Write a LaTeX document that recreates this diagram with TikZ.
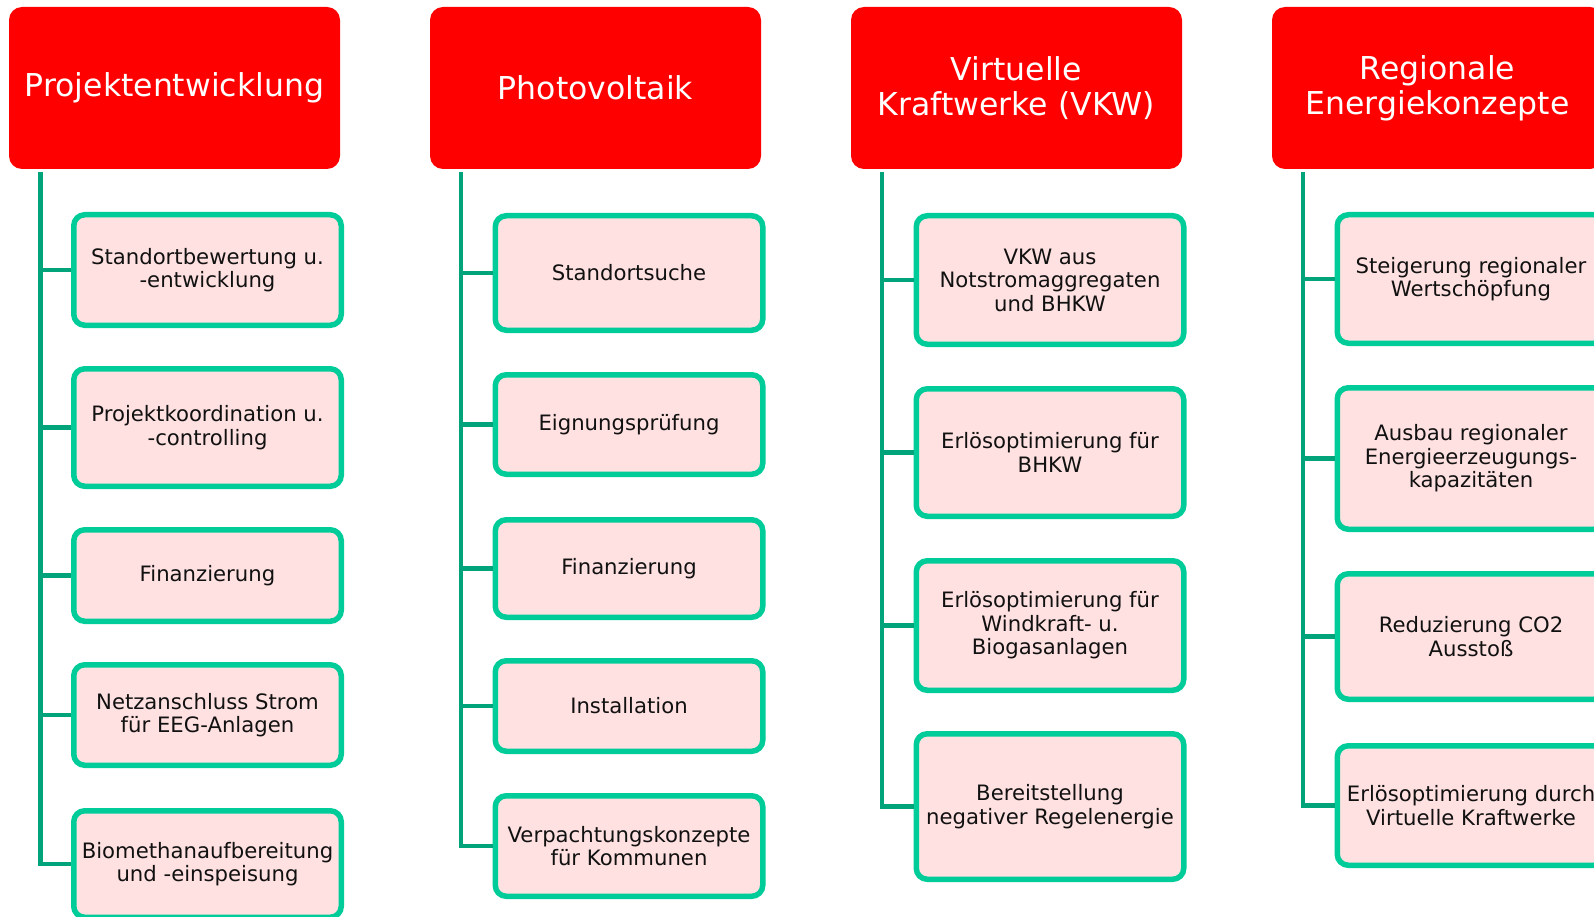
\documentclass[tikz,border=0pt]{standalone}
\usepackage{fontspec}
\setmainfont{DejaVu Sans}
\definecolor{hdrred}{RGB}{255,0,0}
\definecolor{boxfill}{RGB}{255,225,225}
\definecolor{boxline}{RGB}{0,204,153}
\definecolor{trunkgreen}{RGB}{0,163,122}
\definecolor{txt}{RGB}{17,17,17}
\tikzset{
  hdr/.style={fill=hdrred, rounded corners=13pt, minimum width=331pt, minimum height=162pt,
    inner sep=0pt, text=white, align=center, font=\fontsize{31.5}{35}\selectfont},
  item/.style={draw=boxline, fill=boxfill, line width=5.5pt, rounded corners=11pt,
    minimum width=267.5pt, inner sep=0pt, text=txt, align=center,
    font=\fontsize{21.2}{23.5}\selectfont},
  trunk/.style={draw=trunkgreen, line width=4.5pt}
}
\begin{document}
\begin{tikzpicture}[x=1pt,y=-1pt]
\useasboundingbox (0,0) rectangle (1594,917);
\clip (0,0) rectangle (1594,917);

% headers
\node[hdr] (h1) at (174.5,88) {Projektentwicklung};
\node[hdr] (h2) at (595.5,88) {Photovoltaik};
\node[hdr] (h3) at (1016.5,88) {Virtuelle\\Kraftwerke (VKW)};
\node[hdr] (h4) at (1437.5,88) {Regionale\\Energiekonzepte};

% trunk tops
\coordinate (t1) at (40.5,172);
\coordinate (t2) at (461,172);
\coordinate (t3) at (882,172);
\coordinate (t4) at (1303,172);

% column 1
\node[item, minimum height=110.5pt] (b11) at (207.5,270) {Standortbewertung u.\\-entwicklung};
\node[item, minimum height=117.5pt] (b12) at (207.5,427.5) {Projektkoordination u.\\-controlling};
\node[item, minimum height=91.5pt] (b13) at (207.5,575.5) {Finanzierung};
\node[item, minimum height=100.5pt] (b14) at (207.5,715) {Netzanschluss Strom\\für EEG-Anlagen};
\node[item, minimum height=106.5pt] (b15) at (207.5,864) {Biomethanaufbereitung\\und -einspeisung};

% column 2
\node[item, minimum height=114.5pt] (b21) at (629,273) {Standortsuche};
\node[item, minimum height=99.5pt] (b22) at (629,424.5) {Eignungsprüfung};
\node[item, minimum height=97.5pt] (b23) at (629,568.5) {Finanzierung};
\node[item, minimum height=90.5pt] (b24) at (629,706) {Installation};
\node[item, minimum height=100.5pt] (b25) at (629,846) {Verpachtungskonzepte\\für Kommunen};

% column 3
\node[item, minimum height=128.5pt] (b31) at (1050,280) {VKW aus\\Notstromaggregaten\\und BHKW};
\node[item, minimum height=127.5pt] (b32) at (1050,452.5) {Erlösoptimierung für\\BHKW};
\node[item, minimum height=129.5pt] (b33) at (1050,625.5) {Erlösoptimierung für\\Windkraft- u.\\Biogasanlagen};
\node[item, minimum height=145.5pt] (b34) at (1050,806.5) {Bereitstellung\\negativer Regelenergie};

% column 4
\node[item, minimum height=128.5pt] (b41) at (1471,279) {Steigerung regionaler\\Wertschöpfung};
\node[item, minimum height=141.5pt] (b42) at (1471,458.5) {Ausbau regionaler\\Energieerzeugungs-\\kapazitäten};
\node[item, minimum height=125.5pt] (b43) at (1471,636.5) {Reduzierung CO2\\Ausstoß};
\node[item, minimum height=119.5pt] (b44) at (1471,805.5) {Erlösoptimierung durch\\Virtuelle Kraftwerke};

% connectors
\begin{scope}[trunk]
\draw (t1) |- (b15.west);
\draw (t1 |- b11.west) -- (b11.west);
\draw (t1 |- b12.west) -- (b12.west);
\draw (t1 |- b13.west) -- (b13.west);
\draw (t1 |- b14.west) -- (b14.west);

\draw (t2) |- (b25.west);
\draw (t2 |- b21.west) -- (b21.west);
\draw (t2 |- b22.west) -- (b22.west);
\draw (t2 |- b23.west) -- (b23.west);
\draw (t2 |- b24.west) -- (b24.west);

\draw (t3) |- (b34.west);
\draw (t3 |- b31.west) -- (b31.west);
\draw (t3 |- b32.west) -- (b32.west);
\draw (t3 |- b33.west) -- (b33.west);

\draw (t4) |- (b44.west);
\draw (t4 |- b41.west) -- (b41.west);
\draw (t4 |- b42.west) -- (b42.west);
\draw (t4 |- b43.west) -- (b43.west);
\end{scope}
\end{tikzpicture}
\end{document}
